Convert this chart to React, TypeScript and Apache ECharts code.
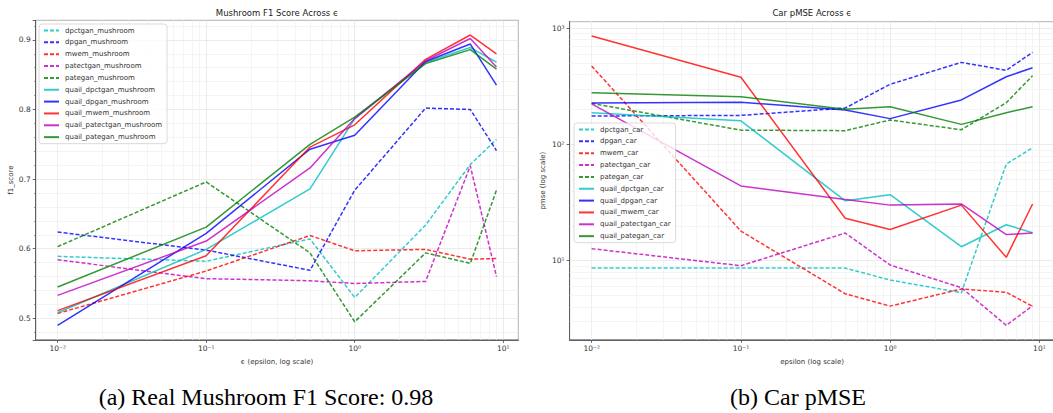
import React, { useEffect, useRef } from "react";
import * as echarts from "echarts";

const FONT = "DejaVu Sans";

// epsilon values (x)
const EPSILON = [0.01, 0.1, 0.5, 1, 3, 6, 9];

// ---- Mushroom F1 score ----
const MUSHROOM_NAMES = [
  "dpctgan_mushroom",
  "dpgan_mushroom",
  "mwem_mushroom",
  "patectgan_mushroom",
  "pategan_mushroom",
  "quail_dpctgan_mushroom",
  "quail_dpgan_mushroom",
  "quail_mwem_mushroom",
  "quail_patectgan_mushroom",
  "quail_pategan_mushroom",
];
const dpctganMushroom = [0.589, 0.582, 0.614, 0.53, 0.634, 0.721, 0.757];
const dpganMushroom = [0.624, 0.598, 0.569, 0.684, 0.802, 0.8, 0.741];
const mwemMushroom = [0.507, 0.568, 0.619, 0.597, 0.599, 0.585, 0.586];
const patectganMushroom = [0.584, 0.557, 0.554, 0.55, 0.553, 0.719, 0.56];
const pateganMushroom = [0.603, 0.696, 0.594, 0.495, 0.594, 0.579, 0.684];
const quailDpctganMushroom = [0.508, 0.599, 0.686, 0.787, 0.868, 0.889, 0.868];
const quailDpganMushroom = [0.49, 0.622, 0.743, 0.763, 0.869, 0.894, 0.835];
const quailMwemMushroom = [0.511, 0.59, 0.746, 0.778, 0.872, 0.907, 0.88];
const quailPatectganMushroom = [0.533, 0.611, 0.716, 0.787, 0.87, 0.902, 0.861];
const quailPateganMushroom = [0.545, 0.631, 0.75, 0.789, 0.866, 0.886, 0.858];
const MUSHROOM_VALUES = [
  dpctganMushroom,
  dpganMushroom,
  mwemMushroom,
  patectganMushroom,
  pateganMushroom,
  quailDpctganMushroom,
  quailDpganMushroom,
  quailMwemMushroom,
  quailPatectganMushroom,
  quailPateganMushroom,
];

// ---- Car pMSE ----
const CAR_NAMES = [
  "dpctgan_car",
  "dpgan_car",
  "mwem_car",
  "patectgan_car",
  "pategan_car",
  "quail_dpctgan_car",
  "quail_dpgan_car",
  "quail_mwem_car",
  "quail_patectgan_car",
  "quail_pategan_car",
];
const dpctganCar = [8.65, 8.65, 8.65, 6.82, 5.31, 67.9, 93.8];
const dpganCar = [176, 178, 206, 330, 509, 435, 621];
const mwemCar = [474, 18.0, 5.2, 4.07, 5.72, 5.35, 4.05];
const patectganCar = [12.7, 9.06, 17.3, 9.19, 5.86, 2.78, 4.1];
const pateganCar = [226, 133, 131.6, 162.6, 134, 229, 391];
const quailDpctganCar = [188, 160, 32.8, 37.0, 13.2, 20.4, 17.4];
const quailDpganCar = [228, 231, 198, 167, 242, 383, 458];
const quailMwemCar = [858, 379, 23.2, 18.6, 30.1, 10.7, 30.8];
const quailPatectganCar = [224, 44, 33.7, 30.1, 30.8, 16.8, 17.3];
const quailPateganCar = [279, 258, 201, 211, 149, 188, 211];
const CAR_VALUES = [
  dpctganCar,
  dpganCar,
  mwemCar,
  patectganCar,
  pateganCar,
  quailDpctganCar,
  quailDpganCar,
  quailMwemCar,
  quailPatectganCar,
  quailPateganCar,
];

// colours per method (matplotlib c, b, r, m, g)
const COLORS = ["#00bfbf", "#0000ff", "#ff0000", "#bf00bf", "#008000"];

// tick labels
const POW_LABELS: Record<string, string> = {
  "-2": "10⁻²",
  "-1": "10⁻¹",
  "0": "10⁰",
  "1": "10¹",
  "2": "10²",
  "3": "10³",
};
const F1_TICKS = ["0.5", "0.6", "0.7", "0.8", "0.9"];

// minor grid positions
const MINOR_X = [
  0.008, 0.009, 0.02, 0.03, 0.04, 0.05, 0.06, 0.07, 0.08, 0.09, 0.2, 0.3, 0.4,
  0.5, 0.6, 0.7, 0.8, 0.9, 2, 3, 4, 5, 6, 7, 8, 9,
];
const MINOR_Y_CAR = [
  3, 4, 5, 6, 7, 8, 9, 20, 30, 40, 50, 60, 70, 80, 90, 200, 300, 400, 500, 600,
  700, 800, 900,
];

// axis ranges (matplotlib 5% margins)
const X_MIN = Math.pow(10, -2.1477);
const X_MAX = Math.pow(10, 1.1019);
const F1_MIN = 0.469;
const F1_MAX = 0.928;
const CAR_MIN = 2.088;
const CAR_MAX = 1142;

const AXIS_COLOR = "#444";
const MAJOR_GRID = "#e2e2e2";
const MINOR_GRID = "#efefef";

function powLabel(v: number) {
  const e = Math.round(Math.log10(v));
  return POW_LABELS[String(e)] ?? "";
}

function makeSeries(names: string[], values: number[][], idx: number) {
  return names.map((name, i) => {
    const color = COLORS[i % 5];
    const dashed = i < 5;
    return {
      type: "line",
      name,
      xAxisIndex: idx,
      yAxisIndex: idx,
      data: EPSILON.map((e, k) => [e, values[i][k]]),
      symbol: "none",
      silent: true,
      z: 3,
      itemStyle: { color },
      lineStyle: {
        color,
        width: 1.5,
        opacity: 0.8,
        type: dashed ? [4, 2] : "solid",
      },
      emphasis: { disabled: true },
    };
  });
}

function minorLines(idx: number, xs: number[], ys: number[]) {
  return {
    type: "line",
    name: "__minor" + idx,
    xAxisIndex: idx,
    yAxisIndex: idx,
    data: [],
    silent: true,
    z: 1,
    markLine: {
      silent: true,
      z: 1,
      symbol: ["none", "none"],
      label: { show: false },
      emphasis: { disabled: true },
      animation: false,
      lineStyle: { color: MINOR_GRID, width: 0.7, type: "solid" },
      data: [
        ...xs.map((v) => ({ xAxis: v })),
        ...ys.map((v) => ({ yAxis: v })),
      ],
    },
  };
}

const tickLabelStyle = {
  fontFamily: FONT,
  fontSize: 7.5,
  color: "#333",
};

function logXAxis(gridIndex: number, name: string) {
  return {
    gridIndex,
    type: "log",
    logBase: 10,
    min: X_MIN,
    max: X_MAX,
    name,
    nameLocation: "middle",
    nameGap: 19,
    nameTextStyle: { fontFamily: FONT, fontSize: 7, color: "#333" },
    axisLine: { show: true, lineStyle: { color: AXIS_COLOR, width: 0.8 } },
    axisTick: { show: true, length: 3, lineStyle: { color: AXIS_COLOR, width: 0.8 } },
    axisLabel: {
      ...tickLabelStyle,
      margin: 5,
      showMinLabel: false,
      showMaxLabel: false,
      formatter: (v: number) => powLabel(v),
    },
    splitLine: { show: true, lineStyle: { color: MAJOR_GRID, width: 0.7 } },
    minorTick: { show: false },
    minorSplitLine: { show: false },
  };
}

export default function App() {
  const ref = useRef<HTMLDivElement>(null);

  useEffect(() => {
    if (!ref.current) return;
    const chart = echarts.init(ref.current, null, { renderer: "svg" });

    const gridCommon = {
      show: true,
      borderColor: AXIS_COLOR,
      borderWidth: 0.8,
      backgroundColor: "transparent",
      containLabel: false,
      outerBoundsMode: "none",
    };

    const legendCommon = {
      orient: "vertical",
      itemWidth: 15,
      itemHeight: 8,
      itemGap: 4.85,
      padding: [3, 5, 3, 4],
      backgroundColor: "rgba(255,255,255,0.8)",
      borderColor: "#d0d0d0",
      borderWidth: 0.8,
      borderRadius: 3,
      selectedMode: false,
      itemStyle: { opacity: 0 },
      textStyle: { fontFamily: FONT, fontSize: 7, color: "#333", padding: [0, 0, 0, 1] },
      z: 10,
    };

    const option = {
      animation: false,
      backgroundColor: "#ffffff",
      textStyle: { fontFamily: FONT },
      title: [
        {
          text: "Mushroom F1 Score Across ϵ",
          left: 277,
          top: 8,
          textAlign: "center",
          padding: 0,
          textStyle: { fontFamily: FONT, fontSize: 8.5, fontWeight: "normal", color: "#222" },
        },
        {
          text: "Car pMSE Across ϵ",
          left: 812,
          top: 8,
          textAlign: "center",
          padding: 0,
          textStyle: { fontFamily: FONT, fontSize: 8.5, fontWeight: "normal", color: "#222" },
        },
      ],
      grid: [
        { ...gridCommon, left: 35.7, top: 20.4, width: 482.7, height: 319.5 },
        { ...gridCommon, left: 569.6, top: 21.6, width: 485, height: 318.2 },
      ],
      xAxis: [
        logXAxis(0, "ϵ (epsilon, log scale)"),
        logXAxis(1, "epsilon (log scale)"),
      ],
      yAxis: [
        {
          gridIndex: 0,
          type: "value",
          min: F1_MIN,
          max: F1_MAX,
          name: "f1_score",
          nameLocation: "middle",
          nameGap: 21,
          nameTextStyle: { fontFamily: FONT, fontSize: 7, color: "#333" },
          axisLine: { show: true, lineStyle: { color: AXIS_COLOR, width: 0.8 } },
          axisTick: { show: true, length: 3, lineStyle: { color: AXIS_COLOR, width: 0.8 } },
          axisLabel: {
            ...tickLabelStyle,
            margin: 5,
            showMinLabel: false,
            showMaxLabel: false,
            formatter: (v: number) => {
              const s = v.toFixed(1);
              return F1_TICKS.includes(s) && Math.abs(v - Number(s)) < 1e-6 ? s : "";
            },
          },
          splitLine: { show: true, lineStyle: { color: MAJOR_GRID, width: 0.7 } },
          minorTick: { show: true, splitNumber: 5, length: 1.5, lineStyle: { color: AXIS_COLOR, width: 0.6 } },
          minorSplitLine: { show: true, lineStyle: { color: MINOR_GRID, width: 0.7 } },
        },
        {
          gridIndex: 1,
          type: "log",
          logBase: 10,
          min: CAR_MIN,
          max: CAR_MAX,
          name: "pmse (log scale)",
          nameLocation: "middle",
          nameGap: 23,
          nameTextStyle: { fontFamily: FONT, fontSize: 7, color: "#333" },
          axisLine: { show: true, lineStyle: { color: AXIS_COLOR, width: 0.8 } },
          axisTick: { show: true, length: 3, lineStyle: { color: AXIS_COLOR, width: 0.8 } },
          axisLabel: {
            ...tickLabelStyle,
            margin: 5,
            showMinLabel: false,
            showMaxLabel: false,
            formatter: (v: number) => powLabel(v),
          },
          splitLine: { show: true, lineStyle: { color: MAJOR_GRID, width: 0.7 } },
          minorTick: { show: false },
          minorSplitLine: { show: false },
        },
      ],
      legend: [
        { ...legendCommon, left: 39, top: 24, data: MUSHROOM_NAMES },
        { ...legendCommon, left: 574, top: 123, data: CAR_NAMES },
      ],
      graphic: [
        {
          type: "text",
          x: 266,
          y: 397,
          style: {
            text: "(a) Real Mushroom F1 Score: 0.98",
            fontFamily: "Liberation Serif",
            fontSize: 24,
            fill: "#000",
            align: "center",
            verticalAlign: "middle",
          },
        },
        {
          type: "text",
          x: 798,
          y: 397,
          style: {
            text: "(b) Car pMSE",
            fontFamily: "Liberation Serif",
            fontSize: 24,
            fill: "#000",
            align: "center",
            verticalAlign: "middle",
          },
        },
      ],
      series: [
        minorLines(0, MINOR_X, []),
        minorLines(1, MINOR_X, MINOR_Y_CAR),
        ...makeSeries(MUSHROOM_NAMES, MUSHROOM_VALUES, 0),
        ...makeSeries(CAR_NAMES, CAR_VALUES, 1),
      ],
    };

    chart.setOption(option as any);
    return () => {
      chart.dispose();
    };
  }, []);

  return (
    <div
      ref={ref}
      style={{ position: "absolute", left: 0, top: 0, width: 1053, height: 413, background: "#fff" }}
    />
  );
}
